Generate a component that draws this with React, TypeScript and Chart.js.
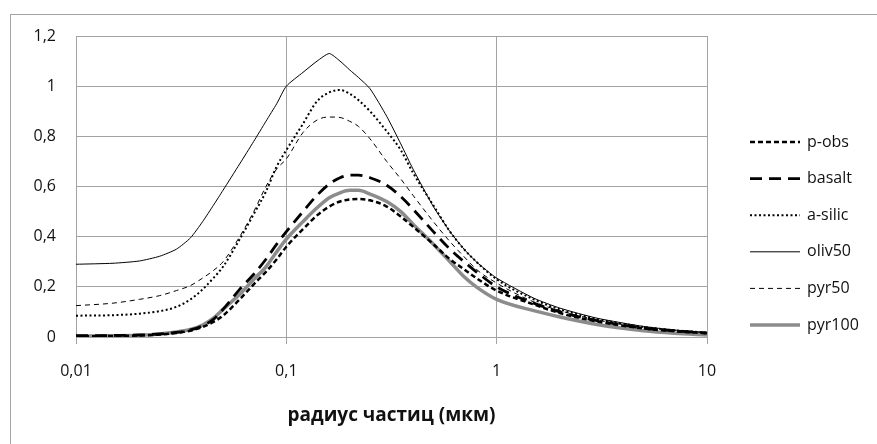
import React, { useEffect, useRef } from "react";
import { Chart, registerables } from "chart.js";

Chart.register(...registerables);

// Particle radius (µm)
const radii = [0.01, 0.015, 0.02, 0.025, 0.03, 0.035, 0.04, 0.045, 0.05, 0.06, 0.07, 0.08, 0.09, 0.1, 0.12, 0.14, 0.16, 0.18, 0.2, 0.22, 0.25, 0.3, 0.35, 0.4, 0.5, 0.6, 0.7, 0.8, 1, 1.5, 2, 3, 5, 7, 10];

const pObs = [0.003, 0.004, 0.006, 0.01, 0.016, 0.025, 0.04, 0.06, 0.085, 0.15, 0.21, 0.26, 0.31, 0.36, 0.43, 0.485, 0.52, 0.54, 0.548, 0.55, 0.545, 0.52, 0.48, 0.44, 0.37, 0.31, 0.27, 0.235, 0.185, 0.13, 0.095, 0.062, 0.034, 0.023, 0.015];
const basalt = [0.005, 0.006, 0.008, 0.012, 0.018, 0.028, 0.045, 0.07, 0.11, 0.19, 0.25, 0.31, 0.37, 0.42, 0.5, 0.565, 0.61, 0.635, 0.645, 0.645, 0.635, 0.605, 0.56, 0.51, 0.42, 0.35, 0.3, 0.26, 0.2, 0.135, 0.1, 0.065, 0.036, 0.025, 0.016];
const aSilic = [0.085, 0.087, 0.093, 0.103, 0.12, 0.15, 0.19, 0.235, 0.28, 0.39, 0.49, 0.58, 0.68, 0.745, 0.85, 0.94, 0.975, 0.985, 0.97, 0.945, 0.9, 0.82, 0.745, 0.655, 0.525, 0.42, 0.35, 0.3, 0.23, 0.15, 0.11, 0.072, 0.04, 0.027, 0.017];
const oliv50 = [0.29, 0.294, 0.303, 0.322, 0.35, 0.395, 0.46, 0.525, 0.585, 0.69, 0.78, 0.86, 0.93, 1.0, 1.055, 1.1, 1.13, 1.1, 1.065, 1.035, 0.99, 0.88, 0.77, 0.67, 0.52, 0.42, 0.35, 0.3, 0.235, 0.155, 0.115, 0.075, 0.042, 0.028, 0.018];
const pyr50 = [0.125, 0.135, 0.15, 0.165, 0.185, 0.205, 0.235, 0.265, 0.3, 0.4, 0.5, 0.6, 0.67, 0.71, 0.815, 0.865, 0.877, 0.875, 0.86, 0.84, 0.79, 0.7, 0.63, 0.565, 0.46, 0.38, 0.32, 0.27, 0.215, 0.14, 0.105, 0.068, 0.038, 0.026, 0.017];
const pyr100 = [0.004, 0.005, 0.007, 0.012, 0.02, 0.03, 0.048, 0.075, 0.11, 0.17, 0.23, 0.28, 0.34, 0.39, 0.46, 0.515, 0.555, 0.575, 0.585, 0.585, 0.57, 0.54, 0.5, 0.45, 0.37, 0.3, 0.24, 0.2, 0.15, 0.105, 0.08, 0.05, 0.025, 0.015, 0.008];

const seriesNames = ["p-obs", "basalt", "a-silic", "oliv50", "pyr50", "pyr100"];
const seriesValues = [pObs, basalt, aSilic, oliv50, pyr50, pyr100];

const xTickValues = [0.01, 0.1, 1, 10];
const xTickLabels = ["0,01", "0,1", "1", "10"];
const yTickLabels = ["0", "0,2", "0,4", "0,6", "0,8", "1", "1,2"];
const xAxisTitle = "радиус частиц (мкм)";

const styles = [
  { color: "#000000", width: 2.5, dash: [5, 3] },
  { color: "#000000", width: 2.8, dash: [12, 7] },
  { color: "#000000", width: 2, dash: [2, 2.5] },
  { color: "#000000", width: 1, dash: [] as number[] },
  { color: "#000000", width: 1, dash: [5, 4] },
  { color: "#8c8c8c", width: 3.5, dash: [] as number[] },
];

const GRID = "#a3a3a3";
const TEXT = "#111111";
const FONT = "'Open Sans', 'Noto Sans', sans-serif";

const framePlugin = {
  id: "frame",
  beforeDraw(chart: any) {
    const ctx = chart.ctx;
    ctx.save();
    ctx.fillStyle = "#ffffff";
    ctx.fillRect(0, 0, chart.width, chart.height);
    ctx.strokeStyle = GRID;
    ctx.lineWidth = 1;
    ctx.strokeRect(10.5, 14.5, chart.width + 20, chart.height + 20);
    ctx.restore();
  },
};

const legendPlugin = {
  id: "customLegend",
  afterDraw(chart: any) {
    const ctx = chart.ctx;
    ctx.save();
    seriesNames.forEach((name, i) => {
      const y = 142 + i * 36.6;
      const s = styles[i];
      ctx.beginPath();
      ctx.strokeStyle = s.color;
      ctx.lineWidth = s.width;
      ctx.setLineDash(s.dash);
      ctx.moveTo(750, y);
      ctx.lineTo(800, y);
      ctx.stroke();
      ctx.setLineDash([]);
      ctx.fillStyle = TEXT;
      ctx.font = `16px ${FONT}`;
      ctx.textAlign = "left";
      ctx.textBaseline = "middle";
      ctx.fillText(name, 807, y);
    });
    ctx.restore();
  },
};

export default function App() {
  const ref = useRef<HTMLCanvasElement | null>(null);
  useEffect(() => {
    if (!ref.current) return;
    const chart = new Chart(ref.current, {
      type: "line",
      data: {
        datasets: seriesNames.map((name, i) => ({
          label: name,
          data: radii.map((r, j) => ({ x: r, y: seriesValues[i][j] })),
          borderColor: styles[i].color,
          borderWidth: styles[i].width,
          borderDash: styles[i].dash,
          pointRadius: 0,
          fill: false,
          cubicInterpolationMode: i === 3 ? "default" : "monotone",
          tension: i === 3 ? 0.2 : 0.4,
        })),
      },
      options: {
        responsive: false,
        animation: false,
        layout: { padding: { left: 0, top: 36, right: 170, bottom: 0 } },
        plugins: { legend: { display: false }, tooltip: { enabled: false } },
        scales: {
          x: {
            type: "logarithmic",
            min: 0.01,
            max: 10,
            afterBuildTicks: (s: any) => {
              s.ticks = xTickValues.map((v) => ({ value: v, major: true }));
            },
            afterFit: (s: any) => {
              s.height = 107;
            },
            ticks: {
              autoSkip: false,
              maxRotation: 0,
              padding: 18,
              color: TEXT,
              font: { family: FONT, size: 16 },
              callback: (_v: any, idx: number) => xTickLabels[idx],
            },
            grid: { color: GRID, lineWidth: 1, tickLength: 7, drawTicks: true },
            border: { color: GRID },
            title: {
              display: true,
              text: xAxisTitle,
              color: TEXT,
              font: { family: FONT, size: 19, weight: "bold" },
              padding: { top: 0, bottom: 17 },
            },
          },
          y: {
            type: "linear",
            min: 0,
            max: 1.2,
            afterFit: (s: any) => {
              s.width = 76;
            },
            ticks: {
              stepSize: 0.2,
              padding: 20,
              color: TEXT,
              font: { family: FONT, size: 16 },
              callback: (_v: any, idx: number) => yTickLabels[idx],
            },
            grid: { color: GRID, lineWidth: 1, drawTicks: false },
            border: { color: GRID },
          },
        },
      },
      plugins: [framePlugin, legendPlugin],
    } as any);
    return () => chart.destroy();
  }, []);
  return (
    <div style={{ position: "fixed", left: 0, top: 0, width: 877, height: 444, background: "#fff" }}>
      <canvas ref={ref} width={877} height={444} style={{ display: "block" }} />
    </div>
  );
}
